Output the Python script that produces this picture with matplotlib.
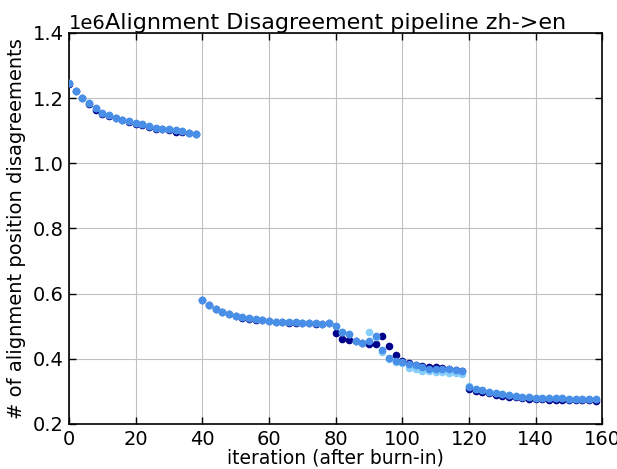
import matplotlib
matplotlib.use("Agg")
import matplotlib.pyplot as plt

# iterations after burn-in (every 2nd)
iterations = list(range(0, 160, 2))

# cornflower series (drawn on top)
series_mid = [
    1.246, 1.223, 1.201, 1.186, 1.169, 1.155, 1.147, 1.140, 1.134, 1.129,
    1.123, 1.120, 1.114, 1.108, 1.106, 1.104, 1.101, 1.099, 1.094, 1.091,
    0.581, 0.565, 0.553, 0.544, 0.538, 0.532, 0.527, 0.524, 0.521, 0.519,
    0.516, 0.514, 0.513, 0.512, 0.512, 0.511, 0.510, 0.509, 0.508, 0.510,
    0.500, 0.482, 0.476, 0.455, 0.447, 0.455, 0.470, 0.427, 0.403, 0.393,
    0.391, 0.383, 0.380, 0.375, 0.370, 0.370, 0.370, 0.368, 0.366, 0.363,
    0.3125, 0.306, 0.303, 0.299, 0.294, 0.292, 0.289, 0.287, 0.284, 0.282,
    0.281, 0.281, 0.280, 0.279, 0.279, 0.2775, 0.2775, 0.2775, 0.2775, 0.2765,
]

series_dark = [
    1.244, 1.221, 1.199, 1.182, 1.163, 1.151, 1.145, 1.138, 1.132, 1.127,
    1.119, 1.118, 1.112, 1.106, 1.104, 1.102, 1.097, 1.095, 1.092, 1.089,
    0.580, 0.564, 0.552, 0.543, 0.537, 0.531, 0.526, 0.523, 0.520, 0.518,
    0.515, 0.513, 0.512, 0.511, 0.511, 0.510, 0.509, 0.508, 0.507, 0.509,
    0.480, 0.461, 0.459, 0.455, 0.447, 0.446, 0.446, 0.471, 0.438, 0.411,
    0.392, 0.388, 0.381, 0.378, 0.375, 0.375, 0.372, 0.370, 0.367, 0.364,
    0.308, 0.301, 0.298, 0.294, 0.289, 0.287, 0.284, 0.282, 0.279, 0.277,
    0.276, 0.276, 0.275, 0.274, 0.274, 0.2725, 0.2725, 0.2725, 0.2725, 0.2715,
]

series_light = [
    1.246, 1.223, 1.201, 1.186, 1.169, 1.155, 1.147, 1.140, 1.134, 1.129,
    1.123, 1.120, 1.114, 1.108, 1.106, 1.104, 1.101, 1.099, 1.094, 1.091,
    0.581, 0.565, 0.553, 0.544, 0.538, 0.532, 0.527, 0.524, 0.521, 0.519,
    0.516, 0.514, 0.513, 0.512, 0.512, 0.511, 0.510, 0.509, 0.508, 0.510,
    0.500, 0.482, 0.476, 0.455, 0.449, 0.482, 0.468, 0.421, 0.400, 0.390,
    0.386, 0.371, 0.368, 0.363, 0.363, 0.360, 0.360, 0.356, 0.356, 0.352,
    0.316, 0.306, 0.303, 0.299, 0.294, 0.292, 0.289, 0.287, 0.284, 0.282,
    0.281, 0.281, 0.280, 0.279, 0.279, 0.2775, 0.2775, 0.2775, 0.2775, 0.2765,
]

x_ticks = [0, 20, 40, 60, 80, 100, 120, 140, 160]
y_ticks = [0.2, 0.4, 0.6, 0.8, 1.0, 1.2, 1.4]

fig = plt.figure(figsize=(6.17, 4.69), dpi=100)
ax = fig.add_axes([0.112, 0.096, 0.864, 0.834])

for vals, col in [(series_dark, "#00008b"), (series_light, "#87cefa"), (series_mid, "#4a8fe7")]:
    ax.plot(iterations, [v * 1e6 for v in vals], "o", color=col, ms=5.5, mew=0, zorder=3)

ax.set_xlim(0, 160)
ax.set_ylim(0.2e6, 1.4e6)
ax.set_xticks(x_ticks)
ax.set_yticks([v * 1e6 for v in y_ticks])
ax.grid(True, color="#c0c0c0", lw=0.8)
ax.set_axisbelow(True)
ax.tick_params(direction="in", top=True, right=True, length=5, width=1, labelsize=14, pad=4)
ax.yaxis.get_offset_text().set_fontsize(14)
for s in ax.spines.values():
    s.set_linewidth(1.2)

ax.set_title("Alignment Disagreement pipeline zh->en", fontsize=16, y=1.0, pad=3)
ax.set_xlabel("iteration (after burn-in)", fontsize=13.5, labelpad=0)
ax.set_ylabel("# of alignment position disagreements", fontsize=14, labelpad=5)

fig.savefig("out.png", dpi=100)
